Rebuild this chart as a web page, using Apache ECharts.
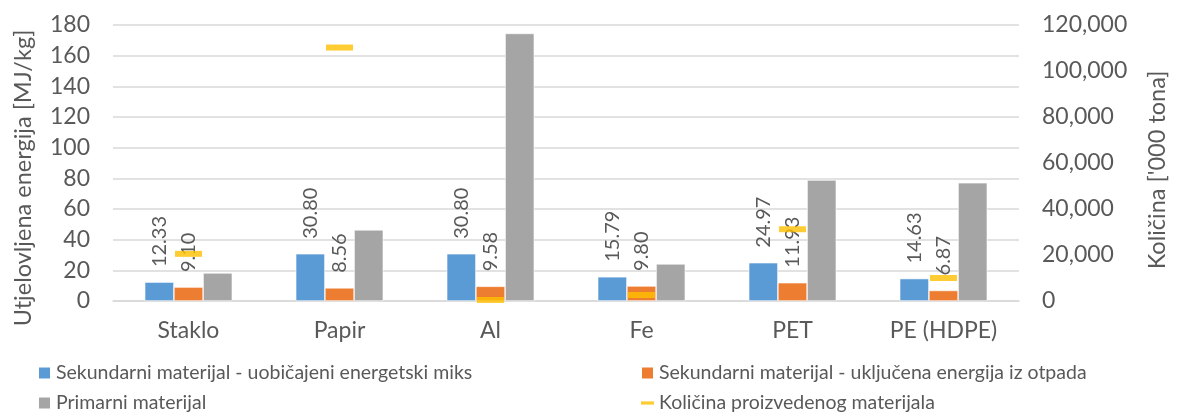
<!DOCTYPE html>
<html>
<head>
<meta charset="utf-8">
<script src="https://cdn.jsdelivr.net/npm/echarts@6/dist/echarts.min.js"></script>
<style>
  html, body { margin: 0; padding: 0; background: #fff; }
  #chart { width: 1177px; height: 414px; }
</style>
</head>
<body>
<div id="chart"></div>
<script>
// Materials on the category axis
const materials = ['Staklo', 'Papir', 'Al', 'Fe', 'PET', 'PE (HDPE)'];

// Embodied energy [MJ/kg]
const secondaryStandardMix = [12.33, 30.80, 30.80, 15.79, 24.97, 14.63];
const secondaryWasteEnergy = [9.10, 8.56, 9.58, 9.80, 11.93, 6.87];
const primaryMaterial = [18.3, 46.4, 174.5, 24.2, 78.9, 77.1];

// Quantity produced ['000 tonnes], right axis
const producedQuantity = [20500, 110200, 450, 2600, 31200, 10000];

// Axis ranges
const energyAxis = { min: 0, max: 180, interval: 20 };
const quantityAxis = { min: 0, max: 120000, interval: 20000 };

const seriesNames = [
  'Sekundarni materijal - uobičajeni energetski miks',
  'Sekundarni materijal - uključena energija iz otpada',
  'Primarni materijal',
  'Količina proizvedenog materijala'
];

const FONT = 'Lato';
const TEXT = '#595959';
const GRID = '#d9d9d9';

const chart = echarts.init(document.getElementById('chart'), null, { renderer: 'canvas' });

const valueLabel = {
  show: true,
  position: 'top',
  rotate: 90,
  align: 'left',
  verticalAlign: 'middle',
  distance: 15,
  color: TEXT,
  fontFamily: FONT,
  fontSize: 20,
  formatter: p => p.value.toFixed(2)
};

const legendText = { color: TEXT, fontFamily: FONT, fontSize: 19.5, lineHeight: 20 };

chart.setOption({
  animation: false,
  textStyle: { fontFamily: FONT },
  grid: { left: 113, right: 149, top: 25, bottom: 113, containLabel: false },
  legend: [
    {
      orient: 'vertical', left: 37, top: 363, padding: 0, itemGap: 10,
      itemWidth: 13, itemHeight: 13, icon: 'rect',
      textStyle: legendText,
      data: [seriesNames[0], seriesNames[2]]
    },
    {
      orient: 'vertical', left: 640, top: 363, padding: 0, itemGap: 10,
      itemWidth: 13, itemHeight: 13,
      textStyle: legendText,
      data: [
        { name: seriesNames[1], icon: 'rect' },
        { name: seriesNames[3], icon: 'path://M0,0 L12,0 L12,3 L0,3 Z' }
      ]
    }
  ],
  xAxis: {
    type: 'category',
    data: materials,
    axisLine: { lineStyle: { color: GRID, width: 1.5 } },
    axisTick: { show: false },
    axisLabel: { color: TEXT, fontFamily: FONT, fontSize: 23, margin: 18 }
  },
  yAxis: [
    {
      type: 'value',
      min: energyAxis.min, max: energyAxis.max, interval: energyAxis.interval,
      name: 'Utjelovljena energija [MJ/kg]',
      nameLocation: 'middle', nameGap: 78,
      nameTextStyle: { color: TEXT, fontFamily: FONT, fontSize: 23.5, padding: [0, 30, 0, 0] },
      axisLine: { show: false },
      axisTick: { show: false },
      axisLabel: { color: TEXT, fontFamily: FONT, fontSize: 23, margin: 23 },
      splitLine: { lineStyle: { color: GRID, width: 1.5 } }
    },
    {
      type: 'value',
      min: quantityAxis.min, max: quantityAxis.max, interval: quantityAxis.interval,
      name: "Količina ['000 tona]",
      nameLocation: 'middle', nameGap: 126,
      nameTextStyle: { color: TEXT, fontFamily: FONT, fontSize: 23.5, padding: [0, 14, 0, 0] },
      position: 'right',
      axisLine: { show: false },
      axisTick: { show: false },
      axisLabel: {
        color: TEXT, fontFamily: FONT, fontSize: 23, margin: 23,
        formatter: v => v.toLocaleString('en-US')
      },
      splitLine: { show: false }
    }
  ],
  series: [
    {
      name: seriesNames[0], type: 'bar', data: secondaryStandardMix,
      barGap: '0%', barCategoryGap: '42%',
      itemStyle: { color: '#5B9BD5', borderColor: '#ffffff', borderWidth: 0.6 },
      label: valueLabel
    },
    {
      name: seriesNames[1], type: 'bar', data: secondaryWasteEnergy,
      itemStyle: { color: '#ED7D31', borderColor: '#ffffff', borderWidth: 0.6 },
      label: valueLabel
    },
    {
      name: seriesNames[2], type: 'bar', data: primaryMaterial,
      itemStyle: { color: '#A5A5A5', borderColor: '#ffffff', borderWidth: 0.6 }
    },
    {
      name: seriesNames[3], type: 'scatter', yAxisIndex: 1, data: producedQuantity,
      symbol: 'rect', symbolSize: [27, 6], z: 5,
      itemStyle: { color: '#FFC000' }
    }
  ]
});
</script>
</body>
</html>
